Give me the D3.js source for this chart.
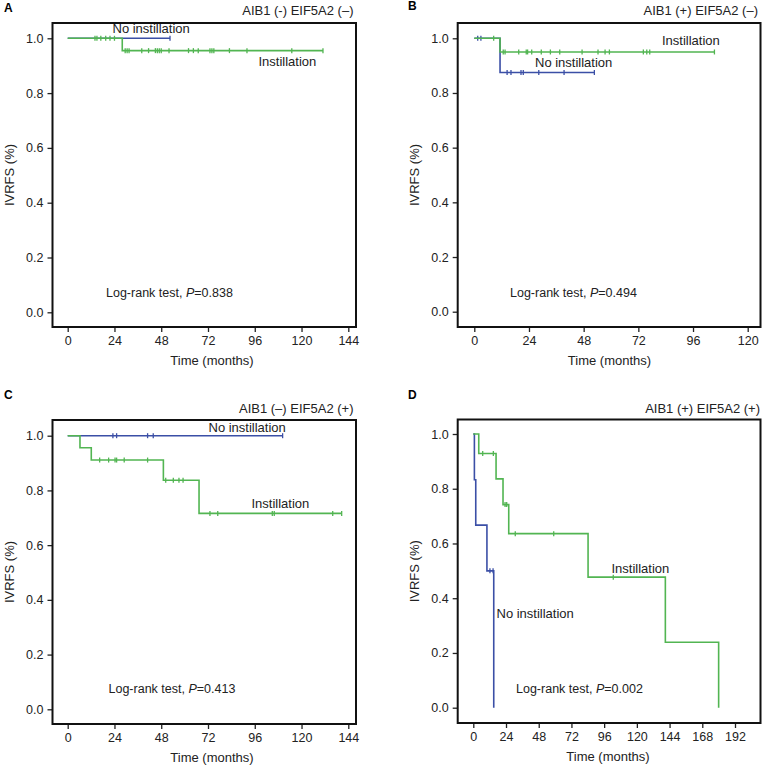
<!DOCTYPE html>
<html>
<head>
<meta charset="utf-8">
<script src="https://cdn.jsdelivr.net/npm/d3@7"></script>
<style>
  html, body { margin: 0; padding: 0; background: #fff; }
  svg { display: block; font-family: "Liberation Sans", Arial, sans-serif; }
  .tick text { font-size: 12.5px; fill: #222; }
  .tick line { stroke: #222; stroke-width: 1.3; }
</style>
</head>
<body>
<svg id="chart" width="762" height="766"></svg>
<script>
// ---- values ----
var panelLetters = ['A', 'B', 'C', 'D'];
var panelTitles = ['AIB1 (-) EIF5A2 (\u2013)', 'AIB1 (+) EIF5A2 (\u2013)', 'AIB1 (\u2013) EIF5A2 (+)', 'AIB1 (+) EIF5A2 (+)'];
var pValues = ['0.838', '0.494', '0.413', '0.002'];
var yTicks = [0, 0.2, 0.4, 0.6, 0.8, 1.0];
var xTicksA = [0, 24, 48, 72, 96, 120, 144];
var xTicksB = [0, 24, 48, 72, 96, 120];
var xTicksC = [0, 24, 48, 72, 96, 120, 144];
var xTicksD = [0, 24, 48, 72, 96, 120, 144, 168, 192];

// steps: [time, survival after that time]; censor: censored times
var instA_steps = [[0, 1], [28, 0.955]];
var instA_censor = [14, 15, 17, 19.5, 21.7, 24, 29.5, 30.5, 31.5, 38, 41.5, 45, 46, 47, 48, 52, 62, 64.5, 67, 73, 74, 75, 83, 92, 115, 131];
var noA_steps = [[0, 1]];
var noA_censor = [52.5];

var instB_steps = [[0, 1], [11.3, 0.95]];
var instB_censor = [8.5, 12.7, 13.5, 19.5, 22.8, 23.4, 25.2, 29.4, 33.4, 37.5, 47.3, 54.3, 57.4, 59.3, 74.2, 75.7, 77, 105.4];
var noB_steps = [[0, 1], [11.3, 0.875]];
var noB_censor = [1.5, 2.9, 14.4, 16.1, 20.5, 21.5, 28.3, 39.4, 52.7];

var instC_steps = [[0, 1], [6.3, 0.956], [12.1, 0.911], [49.1, 0.837], [67.4, 0.716]];
var instC_censor = [16.4, 21, 24.3, 25.1, 29, 41, 50.3, 54.2, 57.1, 59.2, 73, 77, 105, 106, 136, 140.6];
var noC_steps = [[0, 1]];
var noC_censor = [23.2, 25.1, 41, 43.9, 110.3];

var instD_steps = [[0, 1], [4, 0.929], [16.7, 0.836], [21.8, 0.742], [26, 0.636], [84.2, 0.477], [140.9, 0.239], [180, 0]];
var instD_censor = [6.9, 14.7, 23.3, 24.5, 30.8, 59, 102.7];
var noD_steps = [[0, 1], [0.8, 0.833], [1.8, 0.667], [10, 0.5], [15, 0]];
var noD_censor = [12.2, 14.5];

// ---- layout (pixels) ----
var GREEN = '#52b552', BLUE = '#3b4fa6';

var panels = [
  { xTicks: xTicksA, xMax: 144, frame: [52.5, 23, 356, 327], xr: [67.7, 348.3], yr: [312.3, 38.3],
    inst: [instA_steps, instA_censor], no: [noA_steps, noA_censor],
    letter: [4, 12], title: [353.5, 15], instLbl: [258.5, 66], noLbl: [112.5, 33], pLbl: [106, 297], timeX: 212 },
  { xTicks: xTicksB, xMax: 120, frame: [457.7, 23, 760.5, 327], xr: [474.3, 747.7], yr: [311.7, 38.3],
    inst: [instB_steps, instB_censor], no: [noB_steps, noB_censor],
    letter: [408, 10], title: [758, 15], instLbl: [662, 45], noLbl: [535, 67], pLbl: [510, 297], timeX: 609.5 },
  { xTicks: xTicksC, xMax: 144, frame: [52.5, 420, 356, 724], xr: [67.7, 348.3], yr: [709.3, 435.7],
    inst: [instC_steps, instC_censor], no: [noC_steps, noC_censor],
    letter: [4, 399], title: [353.5, 413], instLbl: [251.5, 508], noLbl: [208.5, 432], pLbl: [108.5, 693], timeX: 212 },
  { xTicks: xTicksD, xMax: 192, frame: [457.7, 419.5, 760.5, 723], xr: [473.3, 735], yr: [707.7, 434],
    inst: [instD_steps, instD_censor], no: [noD_steps, noD_censor],
    letter: [408, 399], title: [760, 413], instLbl: [611.5, 573], noLbl: [496.5, 618], pLbl: [516, 693], timeX: 608 }
];

var svg = d3.select('#chart');

function survivalAt(steps, t) {
  var i = d3.bisector(function(d) { return d[0]; }).right(steps, t) - 1;
  return steps[Math.max(0, i)][1];
}

function drawCurve(g, x, y, steps, censor, color) {
  var last = steps[steps.length - 1];
  var end = Math.max(last[0], d3.max(censor));
  var pts = steps.slice();
  if (end > last[0]) pts.push([end, last[1]]);

  var line = d3.line()
    .x(function(d) { return x(d[0]); })
    .y(function(d) { return y(d[1]); })
    .curve(d3.curveStepAfter);

  g.append('path')
    .attr('d', line(pts))
    .attr('fill', 'none')
    .attr('stroke', color)
    .attr('stroke-width', 1.6);

  g.selectAll(null)
    .data(censor)
    .enter().append('line')
    .attr('x1', function(d) { return x(d); })
    .attr('x2', function(d) { return x(d); })
    .attr('y1', function(d) { return y(survivalAt(steps, d)) - 2.5; })
    .attr('y2', function(d) { return y(survivalAt(steps, d)) + 2.5; })
    .attr('stroke', color)
    .attr('stroke-width', 1.3);
}

panels.forEach(function(p, i) {
  var g = svg.append('g');
  var f = p.frame;
  var x = d3.scaleLinear().domain([0, p.xMax]).range(p.xr);
  var y = d3.scaleLinear().domain([0, 1]).range(p.yr);

  // axes
  g.append('g')
    .attr('transform', 'translate(' + f[0] + ',0)')
    .call(d3.axisLeft(y).tickValues(yTicks).tickFormat(d3.format('.1f')).tickSize(5).tickPadding(4))
    .call(function(a) { a.select('.domain').remove(); });

  g.append('g')
    .attr('transform', 'translate(0,' + f[3] + ')')
    .call(d3.axisBottom(x).tickValues(p.xTicks).tickFormat(d3.format('d')).tickSize(5).tickPadding(4))
    .call(function(a) { a.select('.domain').remove(); });

  // curves: blue below, green on top
  drawCurve(g, x, y, p.no[0], p.no[1], BLUE);
  drawCurve(g, x, y, p.inst[0], p.inst[1], GREEN);

  // frame
  g.append('rect')
    .attr('x', f[0]).attr('y', f[1])
    .attr('width', f[2] - f[0]).attr('height', f[3] - f[1])
    .attr('fill', 'none')
    .attr('stroke', '#111')
    .attr('stroke-width', 2);

  // texts
  g.append('text')
    .attr('x', p.letter[0]).attr('y', p.letter[1])
    .attr('font-size', 12).attr('font-weight', 'bold')
    .text(panelLetters[i]);

  g.append('text')
    .attr('x', p.title[0]).attr('y', p.title[1])
    .attr('text-anchor', 'end').attr('font-size', 13).attr('fill', '#222')
    .text(panelTitles[i]);

  g.append('text')
    .attr('x', p.instLbl[0]).attr('y', p.instLbl[1])
    .attr('font-size', 13).attr('fill', '#222')
    .text('Instillation');

  g.append('text')
    .attr('x', p.noLbl[0]).attr('y', p.noLbl[1])
    .attr('font-size', 13).attr('fill', '#222')
    .text('No instillation');

  var pt = g.append('text')
    .attr('x', p.pLbl[0]).attr('y', p.pLbl[1])
    .attr('font-size', 12.5).attr('fill', '#222');
  pt.append('tspan').text('Log-rank test, ');
  pt.append('tspan').attr('font-style', 'italic').text('P');
  pt.append('tspan').text('=' + pValues[i]);

  g.append('text')
    .attr('x', p.timeX).attr('y', f[3] + 38)
    .attr('text-anchor', 'middle').attr('font-size', 13).attr('fill', '#222')
    .text('Time (months)');

  g.append('text')
    .attr('transform', 'translate(' + (f[0] - 39) + ',' + ((f[1] + f[3]) / 2) + ') rotate(-90)')
    .attr('text-anchor', 'middle').attr('font-size', 13).attr('fill', '#222')
    .text('IVRFS (%)');
});
</script>
</body>
</html>
